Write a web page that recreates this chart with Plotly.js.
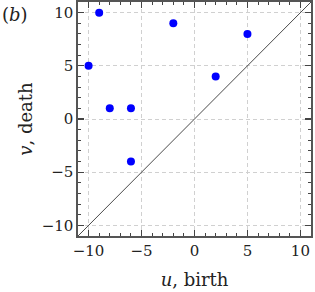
<!DOCTYPE html>
<html><head><meta charset="utf-8">
<script src="https://cdn.plot.ly/plotly-3.0.1.min.js"></script>
<style>html,body{margin:0;padding:0;background:#fff}#plot{width:315px;height:292px}</style>
</head><body><div id="plot"></div>
<script>
const birth = [-9, -10, -8, -6, -6, -2, 2, 5];
const death = [10, 5, 1, 1, -4, 9, 4, 8];
const diagX = [-11, 11];
const diagY = [-11, 11];
const tickVals = [-10, -5, 0, 5, 10];
const tickText = ['\u221210', '\u22125', '0', '5', '10'];

const fam = 'DejaVu Serif, Liberation Serif, serif';
const font = {family: fam, size: 15, color: '#222'};
const titleFont = {family: fam, size: 18, color: '#222'};
const axisCommon = {
  range: [-11, 11], tickvals: tickVals, ticktext: tickText,
  ticks: 'inside', ticklen: 6, tickwidth: 1.1, tickcolor: '#444',
  mirror: 'allticks', showline: true, linecolor: '#555', linewidth: 1.6,
  showgrid: true, gridcolor: '#d0d0d0', griddash: '4px,3px', gridwidth: 1,
  zeroline: false, tickfont: font,
  minor: {dtick: 1, ticks: 'inside', ticklen: 3, tickwidth: 1, tickcolor: '#444', showgrid: false}
};
const data = [
  {x: diagX, y: diagY, mode: 'lines', line: {color: '#4a4a4a', width: 1}, hoverinfo: 'skip'},
  {x: birth, y: death, mode: 'markers', marker: {color: '#0000ff', size: 8}}
];
const layout = {
  width: 315, height: 292, showlegend: false,
  margin: {l: 78, r: 4, t: 2, b: 56},
  paper_bgcolor: '#fff', plot_bgcolor: '#fff', font: font,
  xaxis: Object.assign({}, axisCommon, {title: {text: '<i>u</i>, birth', font: titleFont, standoff: 15}}),
  yaxis: Object.assign({}, axisCommon, {title: {text: '<i>v</i>, death', font: titleFont, standoff: 4}}),
  annotations: [{text: '(<i>b</i>)', xref: 'paper', yref: 'paper', x: -0.335, y: 1.0, xanchor: 'left', yanchor: 'top', showarrow: false, font: titleFont}]
};
Plotly.newPlot('plot', data, layout, {staticPlot: true});
</script></body></html>
